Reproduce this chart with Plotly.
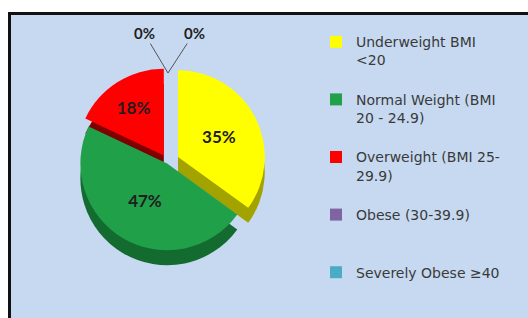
import plotly.graph_objects as go

labels = ["Underweight BMI<br>&lt;20", "Normal Weight (BMI<br>20 - 24.9)",
          "Overweight (BMI 25-<br>29.9)", "Obese (30-39.9)", "Severely Obese ≥40"]
values = [35, 47, 18, 0, 0]
colors = ["#ffff00", "#21a04a", "#ff0000", "#8064a2", "#4bacc6"]
side_colors = ["#a3a300", "#136b2f", "#7e0000", "#4f3d66", "#2e6f80"]
pulls = [0.13, 0.02, 0.09, 0, 0]

W, H = 528, 318

def fx(px):
    return px / W

def fy(py):
    return 1 - py / H

cx, cy, R = 168, 162, 98
depth = 15

def px_dom(cx, cy, R):
    return dict(x=[fx(cx - R), fx(cx + R)], y=[fy(cy + R), fy(cy - R)])

legend_labels = ["&nbsp;<br>" + l if "<br>" in l else "&nbsp;<br>" + l + "<br>&nbsp;" for l in labels]

fig = go.Figure()
fig.add_trace(go.Pie(
    labels=legend_labels, values=values, sort=False, direction="clockwise", rotation=0,
    pull=pulls, marker=dict(colors=side_colors, line=dict(width=0)),
    textinfo="none", showlegend=False, hoverinfo="skip",
    domain=px_dom(cx, cy + depth, R),
))
fig.add_trace(go.Pie(
    labels=legend_labels, values=values, sort=False, direction="clockwise", rotation=0,
    pull=pulls, marker=dict(colors=colors, line=dict(width=0)),
    texttemplate="<b>%{percent:.0%}</b>", textposition="inside",
    insidetextorientation="horizontal",
    textfont=dict(family="Lato", size=17, color="#1e1e1e"),
    domain=px_dom(cx, cy, R),
))

# zero-value labels with leader lines
tip_x, tip_y = fx(168), fy(73)
for ax in (-24, 26):
    fig.add_annotation(x=tip_x, y=tip_y, xref="paper", yref="paper", text="<b>0%</b>",
                       showarrow=True, arrowhead=0, arrowwidth=1, arrowcolor="#555555",
                       ax=ax, ay=-40, font=dict(family="Lato", size=15, color="#1e1e1e"))

fig.add_shape(type="rect", xref="paper", yref="paper", x0=fx(9.5), x1=1.05, y0=-0.05,
              y1=fy(13.5), line=dict(color="#111111", width=3), fillcolor="#c6d9f1",
              layer="below")

fig.update_layout(
    width=W, height=H, margin=dict(l=0, r=0, t=0, b=0),
    paper_bgcolor="white", plot_bgcolor="white",
    font=dict(family="Lato", color="#333333"),
    legend=dict(x=fx(316), y=fy(8), xanchor="left", yanchor="top",
                font=dict(family="DejaVu Sans", size=14, color="#3a3a3a"),
                bgcolor="rgba(0,0,0,0)", traceorder="normal", maxheight=400),
)

fig.write_html("out.html", config={"displayModeBar": False},
               post_script="document.body.style.margin='0';document.body.style.overflow='hidden';")
